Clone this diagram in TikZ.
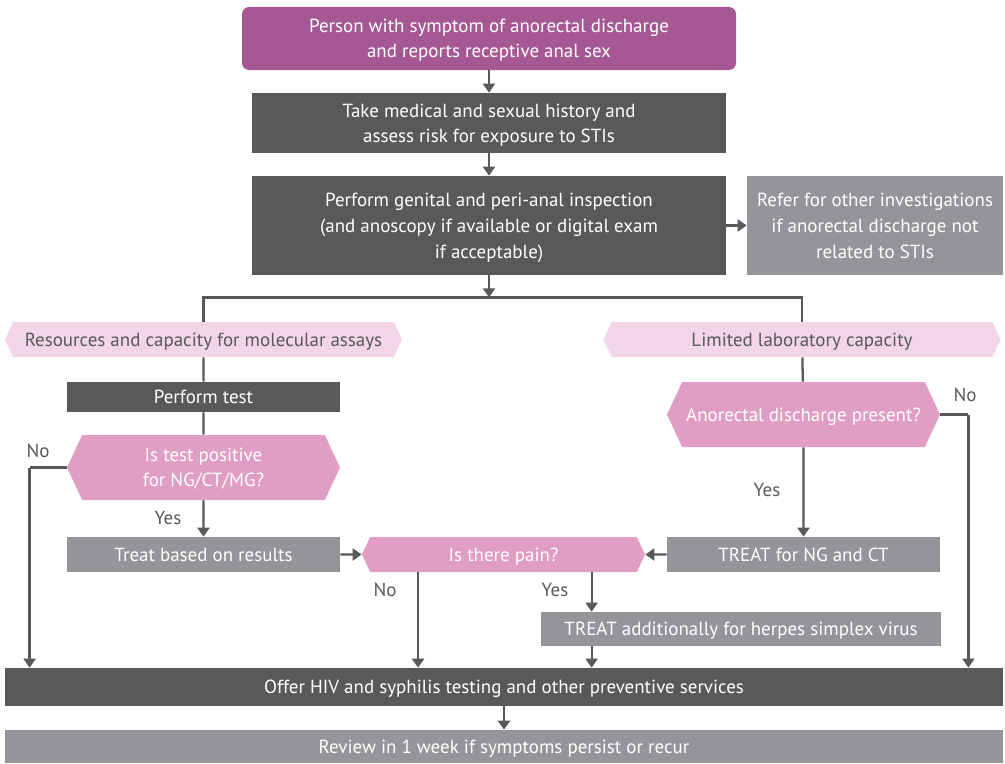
\documentclass[tikz,border=0pt]{standalone}
\usepackage{fontspec}
\setmainfont{PT Sans}
\usetikzlibrary{shapes.symbols, arrows.meta, positioning, calc}

\definecolor{startpurple}{RGB}{166,88,148}
\definecolor{darkbox}{RGB}{88,89,91}
\definecolor{lightbox}{RGB}{147,149,152}
\definecolor{bannerpink}{RGB}{242,213,231}
\definecolor{askpink}{RGB}{225,158,197}

\begin{document}
\begin{tikzpicture}[
    x=0.2mm, y=-0.2mm,
    % Base text style
    every node/.style={
        font=\fontsize{10.8pt}{14pt}\selectfont,
        inner sep=0pt,
        text depth=0pt
    },
    % Starting box style
    startbox/.style={
        rectangle,
        rounded corners=4pt,
        fill=startpurple,
        text=white,
        align=center
    },
    % Action box style
    darkstep/.style={
        rectangle,
        fill=darkbox,
        text=white,
        align=center
    },
    % Secondary action style
    lightstep/.style={
        rectangle,
        fill=lightbox,
        text=white,
        align=center
    },
    % Setting banner style
    banner/.style={
        signal,
        signal to=east and west,
        signal pointer angle=130,
        fill=bannerpink,
        text=darkbox,
        minimum width=79.4mm,
        minimum height=7mm
    },
    % Question style
    askbox/.style={
        signal,
        signal to=east and west,
        signal pointer angle=130,
        fill=askpink,
        text=white,
        align=center
    },
    % Answer label style
    answer/.style={
        text=darkbox
    },
    % Line styles
    link/.style={
        draw=darkbox,
        line width=1.3pt
    },
    arrow/.style={
        link,
        -{Triangle[width=2.4mm, length=1.8mm]}
    }
]

\useasboundingbox (0,0) rectangle (1005,763);

% === Initial steps ===
\node[startbox, minimum width=98.8mm, minimum height=12.6mm] (person) at (489,38.5)
    {Person with symptom of anorectal discharge\\and reports receptive anal sex};
\node[darkstep, minimum width=94.8mm, minimum height=12mm] (history) at (489,123)
    {Take medical and sexual history and\\assess risk for exposure to STIs};
\node[darkstep, minimum width=94.8mm, minimum height=19.8mm,
      font=\fontsize{10.8pt}{14.8pt}\selectfont] (inspect) at (489,225.5)
    {Perform genital and peri-anal inspection\\(and anoscopy if available or digital exam\\if acceptable)};
\node[lightstep, minimum width=51.2mm, minimum height=19.8mm,
      font=\fontsize{10.8pt}{14.8pt}\selectfont] (refer) at (875,225.5)
    {Refer for other investigations\\if anorectal discharge not\\related to STIs};

% === Settings ===
\node[banner] (molecular) at (203.5,339.5) {Resources and capacity for molecular assays};
\node[banner] (limited) at (802,339.5) {Limited laboratory capacity};

% === Molecular assays branch ===
\node[darkstep, minimum width=54.6mm, minimum height=6mm] (test) at (203.5,397) {Perform test};
\node[askbox, minimum width=54.6mm, minimum height=13mm] (positive) at (203.5,467.5)
    {Is test positive\\for NG/CT/MG?};
\node[lightstep, minimum width=54.6mm, minimum height=7mm] (results) at (203.5,554.5)
    {Treat based on results};

% === Limited capacity branch ===
\node[askbox, minimum width=54.6mm, minimum height=13mm] (present) at (803.5,414.5)
    {Anorectal discharge present?};
\node[lightstep, minimum width=54.6mm, minimum height=7mm] (treatngct) at (803.5,554.5)
    {TREAT for NG and CT};

% === Pain ===
\node[askbox, minimum width=56.6mm, minimum height=7mm] (pain) at (503.5,554.5) {Is there pain?};
\node[lightstep, minimum width=80mm, minimum height=6.8mm] (herpes) at (741,629)
    {TREAT additionally for herpes simplex virus};

% === Final steps ===
\node[darkstep, minimum width=199.6mm, minimum height=7.6mm] (offer) at (504,687)
    {Offer HIV and syphilis testing and other preventive services};
\node[lightstep, minimum width=199.6mm, minimum height=6.6mm] (review) at (504,746.5)
    {Review in 1 week if symptoms persist or recur};

% === Helper points ===
\coordinate (split) at ($(inspect.south)+(0,22)$);
\coordinate (painno) at ($(pain.south west)!0.18!(pain.south east)$);
\coordinate (painyes) at ($(pain.south west)!0.83!(pain.south east)$);
\coordinate (posno) at ($(positive.west)+(-37,0)$);
\coordinate (presentno) at ($(present.east)+(28,0)$);

% === Connectors ===
\draw[arrow] (person) -- (history);
\draw[arrow] (history) -- (inspect);
\draw[arrow] (inspect) -- (refer);
\draw[arrow] (inspect) -- (split);
\draw[link] (molecular.north) |- (split) -| (limited.north);
\draw[link] (molecular) -- (test);
\draw[link] (test) -- (positive);
\draw[arrow] (positive) -- (results);
\draw[link] (positive.west) -- (posno);
\draw[arrow] (posno) -- (posno |- offer.north);
\draw[arrow] (results) -- (pain);
\draw[link] (limited) -- (present);
\draw[arrow] (present) -- (treatngct);
\draw[link] (present.east) -- (presentno);
\draw[arrow] (presentno) -- (presentno |- offer.north);
\draw[arrow] (treatngct) -- (pain);
\draw[arrow] (painno) -- (painno |- offer.north);
\draw[arrow] (painyes) -- (painyes |- herpes.north);
\draw[arrow] (herpes.south -| painyes) -- (painyes |- offer.north);
\draw[arrow] (offer) -- (review);

% === Answers ===
\node[answer] (noleft) at (38,451) {No};
\node[answer] (yesleft) at (168,518) {Yes};
\node[answer] (noright) at (965,395) {No};
\node[answer] (yesright) at (767,490) {Yes};
\node[answer] (nopain) at (385,590) {No};
\node[answer] (yespain) at (555,590) {Yes};

\end{tikzpicture}
\end{document}
